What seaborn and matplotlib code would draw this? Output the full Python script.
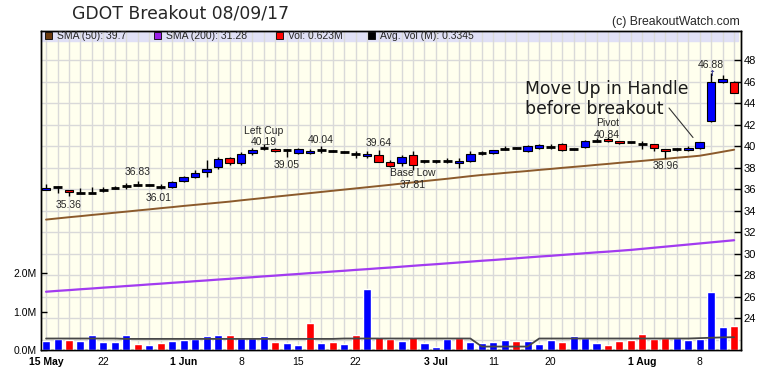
import numpy as np
import pandas as pd
import matplotlib
matplotlib.use("Agg")
import matplotlib.pyplot as plt
import seaborn as sns
from matplotlib.patches import Rectangle
from matplotlib.lines import Line2D

# Trading days, numbered from 15 May 2017 (bar index)
day = list(range(61))
tick_pos = [0, 5, 12, 17, 22, 27, 34, 39, 44, 52, 57]
tick_text = ["15 May", "22", "1 Jun", "8", "15", "22", "3 Jul", "11", "20", "1 Aug", "8"]
bold_ticks = ["15 May", "1 Jun", "3 Jul", "1 Aug"]

# Daily prices
opens = [35.95, 36.25, 35.93, 35.70, 35.70, 35.95, 36.17, 36.33, 36.42, 36.42,
         36.26, 36.20, 36.75, 37.19, 37.60, 38.06, 38.90, 38.49, 39.37, 39.83,
         39.74, 39.63, 39.40, 39.40, 39.64, 39.55, 39.49, 39.30, 39.15, 39.24,
         38.56, 38.47, 39.24, 38.62, 38.62, 38.68, 38.47, 38.62, 39.40, 39.37,
         39.80, 39.86, 39.55, 39.85, 39.98, 40.20, 39.74, 39.98, 40.54, 40.67,
         40.51, 40.39, 40.23, 40.20, 39.74, 39.74, 39.67, 39.83, 42.37, 45.97,
         45.97]
highs = [36.50, 36.30, 35.95, 36.10, 36.20, 36.20, 36.30, 36.60, 36.83, 36.50,
         36.48, 36.80, 37.30, 37.80, 38.74, 39.00, 39.00, 39.45, 39.90, 40.19,
         39.85, 39.75, 39.85, 39.80, 40.04, 39.65, 39.55, 39.60, 39.55, 39.64,
         38.70, 39.24, 39.55, 38.75, 38.70, 38.93, 38.93, 39.55, 39.62, 39.70,
         40.00, 39.95, 40.10, 40.20, 40.20, 40.30, 39.80, 40.60, 40.75, 40.84,
         40.55, 40.45, 40.50, 40.25, 39.80, 39.85, 40.00, 40.45, 46.88, 46.65,
         46.10]
lows = [35.95, 35.65, 35.36, 35.65, 35.65, 35.80, 36.05, 36.00, 36.35, 36.30,
        36.01, 36.10, 36.70, 37.10, 37.13, 37.90, 38.30, 38.30, 39.20, 39.65,
        39.50, 39.05, 39.30, 39.30, 39.40, 39.45, 39.42, 38.93, 38.95, 38.90,
        38.05, 38.16, 37.81, 38.50, 38.50, 38.50, 38.00, 38.55, 39.25, 39.30,
        39.64, 39.75, 39.50, 39.80, 39.75, 39.60, 39.65, 39.90, 40.40, 40.45,
        40.25, 40.30, 39.75, 39.55, 38.96, 39.60, 39.62, 39.80, 42.30, 45.88,
        44.95]
closes = [36.15, 36.25, 35.75, 35.70, 35.70, 35.95, 36.17, 36.33, 36.42, 36.42,
          36.26, 36.73, 37.20, 37.56, 37.90, 38.84, 38.47, 39.27, 39.67, 39.83,
          39.58, 39.63, 39.77, 39.60, 39.64, 39.55, 39.49, 39.30, 39.30, 38.56,
          38.16, 39.00, 38.31, 38.62, 38.62, 38.68, 38.68, 39.30, 39.40, 39.64,
          39.80, 39.86, 40.02, 40.12, 39.98, 39.67, 39.74, 40.51, 40.54, 40.51,
          40.30, 40.39, 40.23, 39.83, 39.58, 39.74, 39.83, 40.39, 45.97, 46.28,
          44.95]

sma50 = [33.20, 33.31, 33.42, 33.52, 33.63, 33.73, 33.84, 33.94, 34.05, 34.15,
         34.26, 34.36, 34.47, 34.57, 34.67, 34.77, 34.87, 34.99, 35.10, 35.21,
         35.33, 35.44, 35.55, 35.66, 35.77, 35.88, 35.99, 36.10, 36.21, 36.32,
         36.43, 36.55, 36.66, 36.78, 36.89, 37.00, 37.12, 37.24, 37.35, 37.44,
         37.54, 37.63, 37.72, 37.82, 37.91, 38.01, 38.10, 38.19, 38.29, 38.38,
         38.48, 38.57, 38.66, 38.76, 38.85, 38.95, 39.04, 39.14, 39.32, 39.51,
         39.70]
sma200 = [26.49, 26.57, 26.64, 26.72, 26.79, 26.87, 26.94, 27.02, 27.09, 27.17,
          27.24, 27.32, 27.39, 27.47, 27.54, 27.62, 27.69, 27.77, 27.84, 27.92,
          27.99, 28.07, 28.14, 28.22, 28.29, 28.37, 28.44, 28.52, 28.59, 28.67,
          28.74, 28.82, 28.90, 28.98, 29.05, 29.13, 29.21, 29.29, 29.37, 29.44,
          29.52, 29.60, 29.68, 29.76, 29.83, 29.91, 29.99, 30.07, 30.15, 30.22,
          30.30, 30.38, 30.48, 30.58, 30.68, 30.78, 30.88, 30.98, 31.08, 31.18,
          31.28]

# Volume in millions, and whether the day closed up or down
volume = [0.24, 0.30, 0.27, 0.24, 0.39, 0.22, 0.22, 0.39, 0.16, 0.13,
          0.18, 0.24, 0.27, 0.29, 0.37, 0.39, 0.39, 0.31, 0.31, 0.37,
          0.21, 0.18, 0.13, 0.71, 0.18, 0.21, 0.16, 0.39, 1.59, 0.34,
          0.29, 0.23, 0.34, 0.18, 0.08, 0.30, 0.31, 0.21, 0.18, 0.21,
          0.26, 0.23, 0.23, 0.16, 0.26, 0.21, 0.37, 0.31, 0.18, 0.13,
          0.23, 0.27, 0.42, 0.29, 0.31, 0.31, 0.27, 0.29, 1.51, 0.60,
          0.623]
vol_dir = ["up", "up", "down", "up", "up", "up", "up", "up", "down", "up",
           "down", "up", "up", "up", "up", "up", "down", "up", "up", "up",
           "down", "up", "up", "down", "up", "down", "up", "down", "up", "down",
           "down", "up", "down", "up", "up", "up", "down", "up", "up", "up",
           "up", "down", "up", "up", "up", "down", "up", "up", "up", "down",
           "down", "down", "down", "down", "down", "up", "up", "up", "up", "up",
           "down"]
avg_vol = [0.30, 0.30, 0.30, 0.30, 0.30, 0.30, 0.30, 0.29, 0.29, 0.29,
           0.29, 0.29, 0.29, 0.29, 0.29, 0.29, 0.29, 0.29, 0.29, 0.29,
           0.29, 0.29, 0.29, 0.29, 0.29, 0.29, 0.30, 0.30, 0.30, 0.30,
           0.30, 0.30, 0.30, 0.30, 0.30, 0.30, 0.30, 0.30, 0.09, 0.09,
           0.09, 0.09, 0.09, 0.30, 0.30, 0.30, 0.30, 0.30, 0.30, 0.30,
           0.30, 0.30, 0.30, 0.30, 0.30, 0.30, 0.30, 0.31, 0.32, 0.33,
           0.3345]

# ---------------------------------------------------------------------------
W, H = 780, 376
L, R, T, B = 41, 741, 31, 350


def fx(x):
    return x / W


def fy(y):
    return 1 - y / H


sns.set_style("white")
plt.rcParams["font.family"] = ["Liberation Sans", "DejaVu Sans"]

fig = plt.figure(figsize=(7.8, 3.76), dpi=100)
ax = fig.add_axes([fx(L), fy(B), (R - L) / W, (B - T) / H])
ax.set_facecolor("#FFFFEE")
vax = ax.twinx()
ax.yaxis.tick_right()
vax.yaxis.tick_left()

# grid: one vertical line per bar, horizontal every 2 price units
ax.set_axisbelow(True)
ax.set_xticks(day, minor=True)
ax.set_yticks(range(22, 50, 2), minor=True)
ax.grid(True, which="both", color="#D9D9D9", lw=1)

# legend strip along the top
strip_h = 10 / (B - T)
ax.add_patch(Rectangle((0, 1 - strip_h), (738 - L) / (R - L), strip_h,
                       transform=ax.transAxes, color="#E0E0F6", zorder=0.3))

# moving averages
sns.lineplot(x=day, y=sma50, color="#8B5A2B", lw=1.4, ax=ax, zorder=2)
sns.lineplot(x=day, y=sma200, color="#A23BF0", lw=1.6, ax=ax, zorder=2)

# candles
o = np.array(opens)
c = np.array(closes)
x = np.array(day)
ax.vlines(x, lows, highs, color="black", lw=1, zorder=3)
flat = np.abs(c - o) < 0.02
cols = np.where(c > o, "#0000FF", "#FF0000")
ax.bar(x[~flat], np.abs(c - o)[~flat], bottom=np.minimum(o, c)[~flat], width=0.75,
       color=cols[~flat], edgecolor="black", lw=0.8, zorder=4)
ax.hlines(c[flat], x[flat] - 0.375, x[flat] + 0.375, color="black", lw=2, zorder=4)

# volume panel
vol_df = pd.DataFrame({"day": day, "vol": volume, "dir": vol_dir})
sns.barplot(data=vol_df, x="day", y="vol", hue="dir",
            palette={"up": "#0000FF", "down": "#FF0000"}, native_scale=True,
            width=0.7, dodge=False, saturation=1, legend=False, errorbar=None,
            ax=vax, zorder=2)
sns.lineplot(x=day, y=avg_vol, color="#474747", lw=1.3, ax=vax, zorder=3)

# scales
ax.set_xlim(-0.44, 60.6)
ax.set_ylim(21.07, 50.74)
vax.set_ylim(0, 8.33)
ax.set_xticks(tick_pos)
ax.set_xticklabels(tick_text)
for lab in ax.get_xticklabels():
    if lab.get_text() in bold_ticks:
        lab.set_fontweight("bold")
ax.set_yticks(range(24, 49, 2))
vax.set_yticks([0, 1, 2])
vax.set_yticklabels(["0.0M", "1.0M", "2.0M"])
ax.set_xlabel("")
ax.set_ylabel("")
vax.set_xlabel("")
vax.set_ylabel("")

ax.tick_params(axis="x", which="major", direction="out", length=3, width=1,
               pad=2, labelsize=7.5, colors="black")
ax.tick_params(axis="x", which="minor", length=0)
ax.tick_params(axis="y", which="major", direction="in", length=5, width=1,
               pad=2, labelsize=8, colors="black")
ax.tick_params(axis="y", which="minor", length=0)
vax.tick_params(axis="y", direction="in", length=4, width=1, pad=3,
                labelsize=7.5, colors="black")
for a in (ax, vax):
    for s in a.spines.values():
        s.set_color("black")
        s.set_linewidth(1)

# title and credit
fig.text(fx(72), fy(18.5), "GDOT Breakout 08/09/17", fontsize=12.4,
         family="DejaVu Sans", va="baseline")
fig.text(fx(740), fy(25), "(c) BreakoutWatch.com", fontsize=8.8,
         ha="right", va="baseline")

# legend entries
legend_items = [
    (45, "#6B3A0F", f"SMA (50): {sma50[-1]:.1f}"),
    (154, "#9A1EE8", f"SMA (200): {sma200[-1]:.2f}"),
    (276, "#FF0000", f"Vol: {volume[-1]:.3f}M"),
    (368, "#000000", f"Avg. Vol (M): {avg_vol[-1]:.4f}"),
]
for lx, col, txt in legend_items:
    fig.add_artist(Rectangle((fx(lx), fy(39)), 7 / W, 7 / H, transform=fig.transFigure,
                             facecolor=col, edgecolor="black", lw=0.6))
    fig.text(fx(lx + 12), fy(35.8), txt, fontsize=7.5, va="center")

# point labels
labels = [
    (69, 205, "35.36"), (138, 172.5, "36.83"), (159, 198, "36.01"),
    (264, 131.5, "Left Cup"), (264, 142.5, "40.19"), (287, 164.5, "39.05"),
    (321, 139.5, "40.04"), (379, 143, "39.64"), (413, 173, "Base Low"),
    (413, 185, "37.81"), (608, 123.5, "Pivot"), (607, 134.5, "40.84"),
    (666, 166, "38.96"), (711, 65, "46.88"),
]
for lx, ly, txt in labels:
    fig.text(fx(lx), fy(ly), txt, fontsize=7.5, ha="center", va="center")
fig.text(fx(711.5), fy(73.5), "\u2191", fontsize=6, ha="center", va="center",
         color="#1A1A80", family="DejaVu Sans")

# callout
fig.text(fx(525), fy(93.5), "Move Up in Handle", fontsize=12.4,
         family="DejaVu Sans", va="baseline", color="#1A1A1A")
fig.text(fx(525), fy(114.5), "before breakout", fontsize=12.4,
         family="DejaVu Sans", va="baseline", color="#1A1A1A")
fig.add_artist(Line2D([fx(669), fx(693)], [fy(108), fy(137.5)],
                      transform=fig.transFigure, color="#333333", lw=0.8))

fig.savefig("out.png", dpi=100)
